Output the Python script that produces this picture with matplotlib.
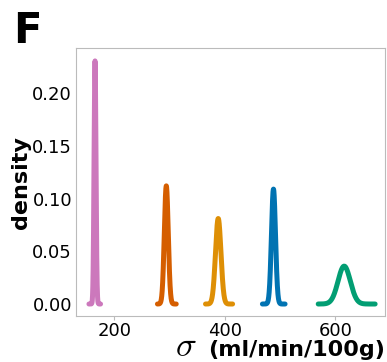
import matplotlib
matplotlib.use("Agg")
import matplotlib.pyplot as plt
import numpy as np

# one gaussian density per group: centre, spread and the range it was drawn over
colors = ["#CC78BC", "#D55E00", "#DE8F05", "#0173B2", "#029E73"]
means = [165, 294, 388, 488, 616]
sds = [1.73, 3.56, 4.92, 3.66, 11.1]
lows = [154, 278, 365, 468, 569]
highs = [175, 312, 414, 509, 672]
xticks = [200, 400, 600]
yticks = [0.00, 0.05, 0.10, 0.15, 0.20]

plt.rcParams["mathtext.fontset"] = "cm"

fig = plt.figure(figsize=(3.87, 3.62), dpi=100)
ax = fig.add_axes([0.197, 0.127, 0.798, 0.74])

for c, m, s, lo, hi in zip(colors, means, sds, lows, highs):
    x = np.linspace(lo, hi, 300)
    y = np.exp(-0.5 * ((x - m) / s) ** 2) / (s * np.sqrt(2 * np.pi))
    ax.plot(x, y, color=c, lw=3.6, solid_capstyle="round")

ax.set_xlim(131, 690)
ax.set_ylim(-0.0114, 0.2427)
ax.set_xticks(xticks)
ax.set_yticks(yticks)
ax.set_yticklabels([f"{v:.2f}" for v in yticks])
for sp in ax.spines.values():
    sp.set_color("#bbbbbb")
ax.tick_params(axis="both", labelsize=13, color="#bbbbbb", length=3, pad=1)
ax.tick_params(axis="y", length=0, pad=3)

ax.set_ylabel("density", fontsize=16, fontweight="bold", labelpad=1)
ax.set_xlabel("(ml/min/100g)", fontsize=16, fontweight="bold",
              labelpad=0, loc="right")
fig.text(0.452, 0.016, r"$\sigma$", fontsize=25)
fig.text(0.035, 0.88, "F", fontsize=30, fontweight="bold")

fig.savefig("out.png", dpi=100)
